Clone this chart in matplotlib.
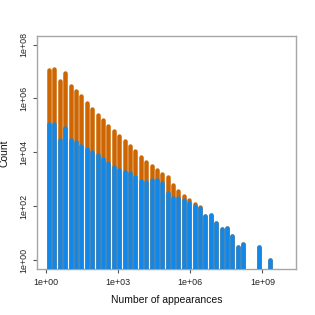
import numpy as np
import matplotlib
matplotlib.use('Agg')
import matplotlib.pyplot as plt

# log10 width of each histogram bin (bins start at 1)
bin_step = 0.2247

# counts per bin (orange = all appearances, blue = subset); 0 = empty bin
total_counts = [1.18e7, 1.26e7, 4.6e6, 9.1e6, 3.0e6, 1.94e6, 1.26e6, 6.9e5,
                4.0e5, 2.5e5, 1.56e5, 9.8e4, 6.4e4, 4.0e4, 2.6e4, 1.7e4,
                1.1e4, 6800, 4400, 3050, 2160, 1600, 1240, 594, 364, 240,
                171, 116, 92, 44, 49, 23, 14, 15, 8, 3, 4, 0, 0, 3, 0, 1]
subset_counts = [1.16e5, 1.16e5, 2.93e4, 8.0e4, 2.93e4, 2.4e4, 1.66e4, 1.28e4,
                 9900, 8070, 5810, 4020, 2900, 2200, 1870, 1670, 1260, 853,
                 769, 938, 938, 706, 322, 208, 199, 167, 132, 106, 87, 44, 49,
                 23, 14, 15, 8, 3, 4, 0, 0, 3, 0, 1]

x_ticks = [1, 1e3, 1e6, 1e9]
x_tick_labels = ['1e+00', '1e+03', '1e+06', '1e+09']
y_ticks = [1, 1e2, 1e4, 1e6, 1e8]
y_tick_labels = ['1e+00', '1e+02', '1e+04', '1e+06', '1e+08']

plt.rcParams['font.family'] = ['Liberation Sans', 'DejaVu Sans']

fig = plt.figure(figsize=(3.15, 3.15), dpi=100)
ax = fig.add_axes([0.1165, 0.147, 0.8232, 0.7387])
ax.set_xscale('log')
ax.set_yscale('log')
ax.set_xlim(10 ** -0.4, 10 ** 10.4)
ax.set_ylim(10 ** -0.32, 10 ** 8.32)

n = len(total_counts)
centers = 10 ** ((np.arange(n) + 0.5) * bin_step)
tot = np.array(total_counts, dtype=float)
sub = np.array(subset_counts, dtype=float)

lw_pt = 4.5 * 72 / 100
m = tot > 0
ax.vlines(centers[m], 1e-3, tot[m], colors='#CD6600', linewidth=lw_pt,
          capstyle='round', zorder=3)
m = sub > 0
ax.vlines(centers[m], 1e-3, sub[m], colors='#1287E8', linewidth=lw_pt,
          capstyle='round', zorder=3.1)

ax.minorticks_off()
ax.set_xticks(x_ticks)
ax.set_xticklabels(x_tick_labels)
ax.set_yticks(y_ticks)
ax.set_yticklabels(y_tick_labels, rotation=90, va='center')
ax.tick_params(axis='both', which='major', direction='out', length=2.9,
               width=0.8, color='#555555', labelsize=6.4, labelcolor='#222222')
ax.tick_params(axis='x', pad=3.5)
ax.tick_params(axis='y', pad=3.0)

for s in ax.spines.values():
    s.set_color('#A6A6A6')
    s.set_linewidth(1.0)

fig.text(166.3 / 315, 1 - 300 / 315, 'Number of appearances', ha='center',
         va='center', fontsize=7.5, color='#111111')
fig.text(5.0 / 315, 1 - 153 / 315, 'Count', ha='center', va='center',
         rotation=90, fontsize=7.5, color='#111111')

fig.savefig('out.png', dpi=100)
